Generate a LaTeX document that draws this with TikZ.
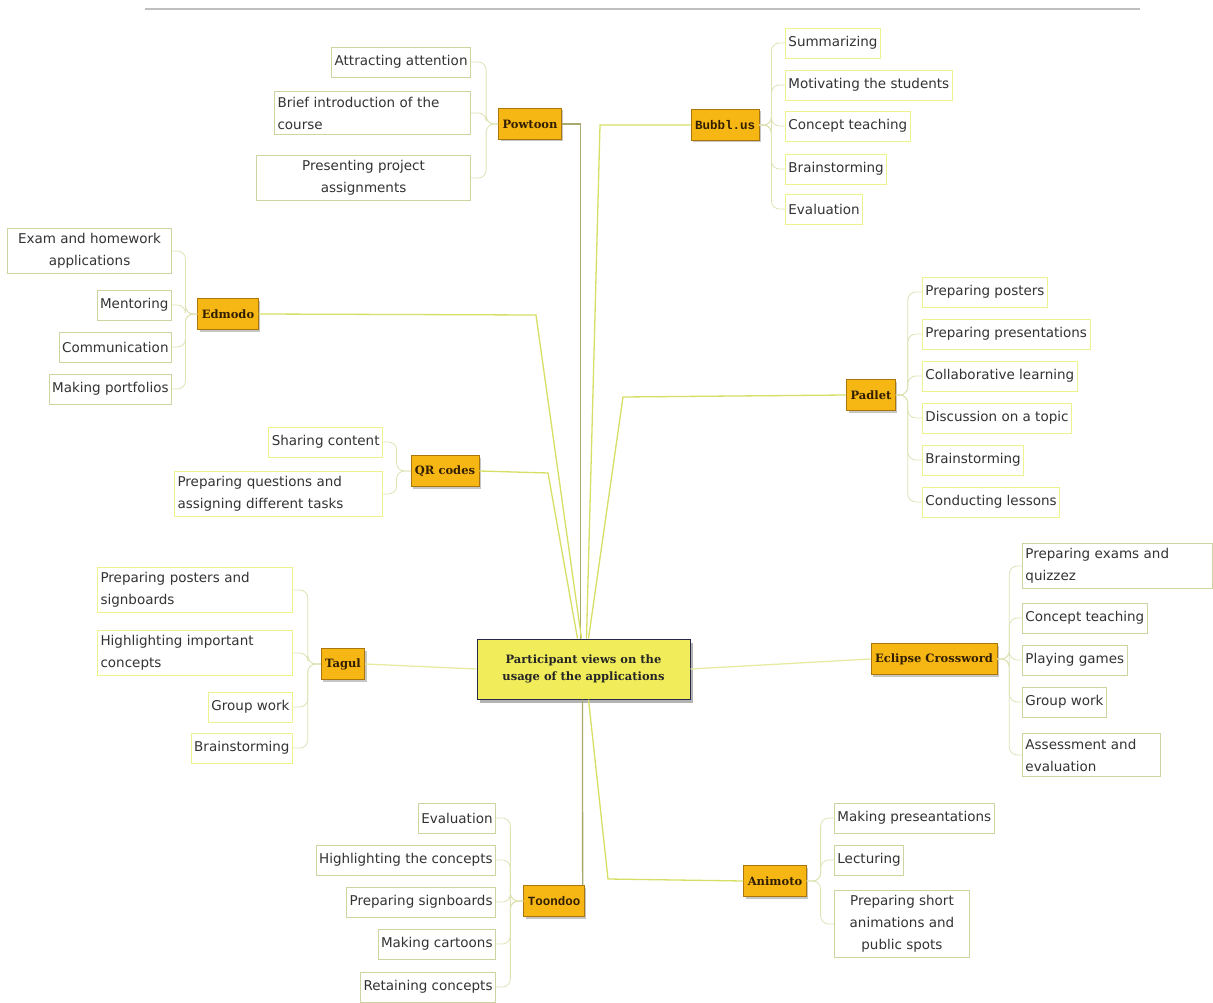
\documentclass[tikz,border=0pt]{standalone}
\usepackage{fontspec}
\setmainfont{DejaVu Sans}
\newfontfamily\kopf{DejaVu Serif}
\newfontfamily\schreib{Liberation Mono}
\usetikzlibrary{shadows}

\definecolor{stammgelb}{RGB}{214,222,100}
\definecolor{stammoliv}{RGB}{168,170,108}
\definecolor{zweigfarbe}{RGB}{222,226,180}
\definecolor{blattrand}{RGB}{205,212,160}
\definecolor{blattgelb}{RGB}{236,242,140}
\definecolor{appfill}{RGB}{246,183,20}
\definecolor{apprand}{RGB}{170,118,10}
\definecolor{apptext}{RGB}{50,30,0}
\definecolor{mittefill}{RGB}{240,236,90}
\definecolor{mitterand}{RGB}{40,40,72}

\begin{document}
\begin{tikzpicture}[x=1pt,y=-1pt,
    blatt/.style={draw=blattrand, line width=0.9pt, fill=white, inner xsep=3pt, inner ysep=5pt,
      minimum height=30pt, font=\fontsize{13.5}{22}\selectfont, text=black!80},
    gelbblatt/.style={blatt, draw=blattgelb},
    app/.style={draw=apprand, line width=0.8pt, fill=appfill, inner xsep=4pt, minimum height=31pt,
      font=\kopf\bfseries\fontsize{11.5}{12}\selectfont, text=apptext,
      drop shadow={shadow xshift=2pt, shadow yshift=-2pt, opacity=0.45}},
    tipp/.style={font=\schreib\bfseries\fontsize{12.5}{13}\selectfont},
    mittel/.style={draw=mitterand, line width=1pt, fill=mittefill, minimum width=213pt, minimum height=60pt,
      align=center, font=\kopf\bfseries\fontsize{11.5}{17}\selectfont, text=black!85,
      drop shadow={shadow xshift=3pt, shadow yshift=-4pt, opacity=0.6}},
    stamm/.style={stammgelb, line width=1.3pt},
    zweig/.style={zweigfarbe, line width=0.8pt, rounded corners=8pt}]

  \useasboundingbox (0,0) rectangle (1213,1003);

  % Linie oben
  \draw[black!25, line width=1.5pt] (145,9) -- (1140,9);

  % Mitte
  \node[mittel] (mitte) at (583.5,669) {Participant views on the\\usage of the applications};

  % Anwendungen
  \node[app] (pow) at (530,124) {Powtoon};
  \node[app, tipp] (bub) at (725,125) {Bubbl.us};
  \node[app] (edm) at (228,314) {Edmodo};
  \node[app] (pad) at (871,395) {Padlet};
  \node[app] (qr) at (445,471) {QR codes};
  \node[app] (tag) at (343,664) {Tagul};
  \node[app] (ecl) at (934,659) {Eclipse Crossword};
  \node[app, tipp] (toon) at (554,901) {Toondoo};
  \node[app] (ani) at (775,881) {Animoto};

  % Staemme zur Mitte
  \draw[stamm, stammoliv] (pow.east) -| ([xshift=-3pt]mitte.north);
  \draw[stamm] (bub.west) -- (600,125) -- ([xshift=3pt]mitte.north);
  \draw[stamm] (edm.east) -- (536,315) -- ([xshift=-2pt]mitte.north);
  \draw[stamm] (pad.west) -- (623,397) -- ([xshift=5pt]mitte.north);
  \draw[stamm] (qr.east) -- (548,473) -- ([xshift=-6pt]mitte.north);
  \draw[stamm, stammgelb!60] (tag.east) -- (mitte.west);
  \draw[stamm, stammgelb!60] (mitte.east) -- (ecl.west);
  \draw[stamm, stammoliv] ([xshift=-1pt]mitte.south) -- ([xshift=-2pt]toon.north east);
  \draw[stamm] ([xshift=5pt]mitte.south) -- (608,879) -- (ani.west);

  % Powtoon
  \node[blatt, anchor=east] (pow1) at (471,62) {Attracting attention};
  \node[blatt, anchor=east, text width=190pt, align=left] (pow2) at (471,113) {Brief introduction of the\\course};
  \node[blatt, anchor=east, minimum width=214pt, align=center] (pow3) at (471,178) {Presenting project\\assignments};

  % Bubbl.us
  \node[gelbblatt, anchor=west] (bub1) at (785,43) {Summarizing};
  \node[gelbblatt, anchor=west] (bub2) at (785,85) {Motivating the students};
  \node[gelbblatt, anchor=west] (bub3) at (785,126) {Concept teaching};
  \node[gelbblatt, anchor=west] (bub4) at (785,169) {Brainstorming};
  \node[gelbblatt, anchor=west] (bub5) at (785,209) {Evaluation};

  % Edmodo
  \node[blatt, anchor=east, minimum width=164pt, align=center] (edm1) at (172,251) {Exam and homework\\applications};
  \node[blatt, anchor=east] (edm2) at (172,305) {Mentoring};
  \node[blatt, anchor=east] (edm3) at (172,347) {Communication};
  \node[blatt, anchor=east] (edm4) at (172,389) {Making portfolios};

  % Padlet
  \node[gelbblatt, anchor=west] (pad1) at (922,292) {Preparing posters};
  \node[gelbblatt, anchor=west] (pad2) at (922,334) {Preparing presentations};
  \node[gelbblatt, anchor=west] (pad3) at (922,376) {Collaborative learning};
  \node[gelbblatt, anchor=west] (pad4) at (922,418) {Discussion on a topic};
  \node[gelbblatt, anchor=west] (pad5) at (922,460) {Brainstorming};
  \node[gelbblatt, anchor=west] (pad6) at (922,502) {Conducting lessons};

  % QR codes
  \node[gelbblatt, anchor=east] (qr1) at (383,442) {Sharing content};
  \node[gelbblatt, anchor=east, text width=202pt, align=left] (qr2) at (383,494) {Preparing questions and\\assigning different tasks};

  % Tagul
  \node[gelbblatt, anchor=east, text width=189pt, align=left] (tag1) at (293,590) {Preparing posters and\\signboards};
  \node[gelbblatt, anchor=east, text width=189pt, align=left] (tag2) at (293,653) {Highlighting important\\concepts};
  \node[gelbblatt, anchor=east] (tag3) at (293,707) {Group work};
  \node[gelbblatt, anchor=east] (tag4) at (293,748) {Brainstorming};

  % Eclipse Crossword
  \node[blatt, anchor=west, text width=184pt, align=left] (ecl1) at (1022,566) {Preparing exams and\\quizzez};
  \node[blatt, anchor=west] (ecl2) at (1022,618) {Concept teaching};
  \node[blatt, anchor=west] (ecl3) at (1022,660) {Playing games};
  \node[blatt, anchor=west] (ecl4) at (1022,702) {Group work};
  \node[blatt, anchor=west, text width=132pt, align=left] (ecl5) at (1022,755) {Assessment and\\evaluation};

  % Toondoo
  \node[blatt, anchor=east] (toon1) at (496,818) {Evaluation};
  \node[blatt, anchor=east] (toon2) at (496,860) {Highlighting the concepts};
  \node[blatt, anchor=east] (toon3) at (496,902) {Preparing signboards};
  \node[blatt, anchor=east] (toon4) at (496,944) {Making cartoons};
  \node[blatt, anchor=east] (toon5) at (496,987) {Retaining concepts};

  % Animoto
  \node[blatt, anchor=west] (ani1) at (834,818) {Making preseantations};
  \node[blatt, anchor=west] (ani2) at (834,860) {Lecturing};
  \node[blatt, anchor=west, minimum width=135pt, align=center] (ani3) at (834,924) {Preparing short\\animations and\\public spots};

  % Zweige zu den Blaettern
  \foreach \b in {pow1,pow2,pow3} \draw[zweig] (pow.west) -- ++(-12,0) |- (\b.east);
  \foreach \b in {bub1,bub2,bub3,bub4,bub5} \draw[zweig] (bub.east) -- ++(12,0) |- (\b.west);
  \foreach \b in {edm1,edm2,edm3,edm4} \draw[zweig] (edm.west) -- ++(-12,0) |- (\b.east);
  \foreach \b in {pad1,pad2,pad3,pad4,pad5,pad6} \draw[zweig] (pad.east) -- ++(12,0) |- (\b.west);
  \foreach \b in {qr1,qr2} \draw[zweig] (qr.west) -- ++(-14,0) |- (\b.east);
  \foreach \b in {tag1,tag2,tag3,tag4} \draw[zweig] (tag.west) -- ++(-13,0) |- (\b.east);
  \foreach \b in {ecl1,ecl2,ecl3,ecl4,ecl5} \draw[zweig] (ecl.east) -- ++(12,0) |- (\b.west);
  \foreach \b in {toon1,toon2,toon3,toon4,toon5} \draw[zweig] (toon.west) -- ++(-13,0) |- (\b.east);
  \foreach \b in {ani1,ani2,ani3} \draw[zweig] (ani.east) -- ++(14,0) |- (\b.west);

\end{tikzpicture}
\end{document}
